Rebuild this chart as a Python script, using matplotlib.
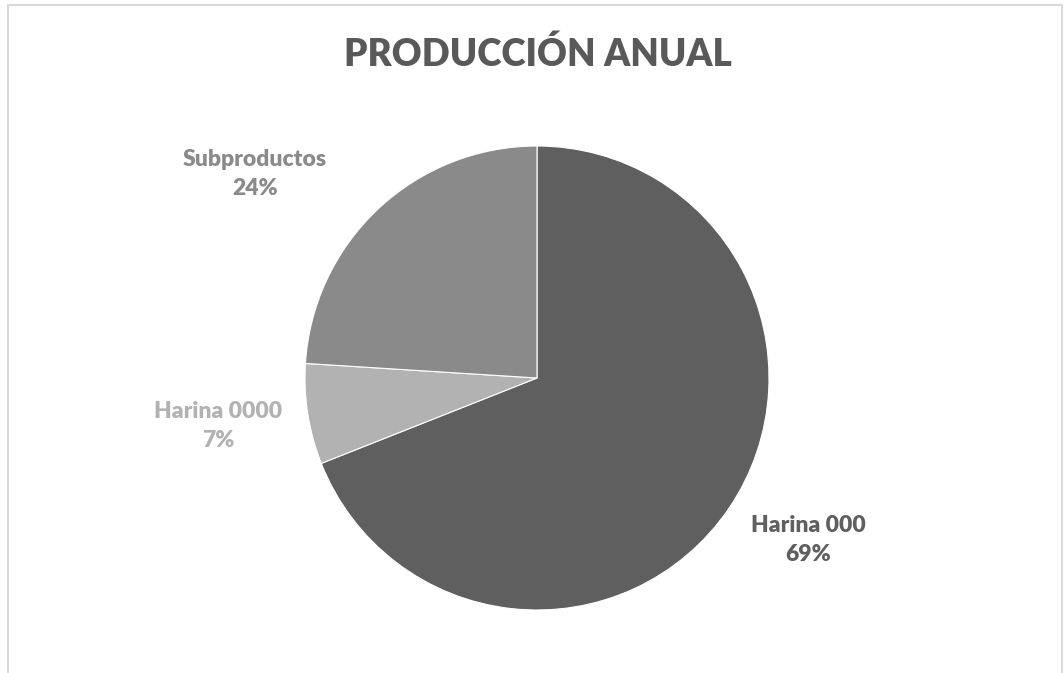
import matplotlib
matplotlib.use('Agg')
import matplotlib.pyplot as plt
from matplotlib.patches import Rectangle

plt.rcParams['font.family'] = ['Lato', 'DejaVu Sans']

labels = ['Harina 000', 'Harina 0000', 'Subproductos']
values = [69, 7, 24]
colors = ['#5f5f5f', '#b2b2b2', '#8a8a8a']
title = 'PRODUCCIÓN ANUAL'

W, H = 1064, 673
fig = plt.figure(figsize=(W / 100, H / 100), dpi=100)

# chart border
fig.patches.append(Rectangle((8 / W, -0.01), (1062 - 8) / W, 1 - 5 / H + 0.01,
                             transform=fig.transFigure, fill=False,
                             edgecolor='#d9d9d9', linewidth=1.5))

cx, cy, r = 537, 378, 232
ax = fig.add_axes([(cx - r) / W, 1 - (cy + r) / H, 2 * r / W, 2 * r / H])
ax.pie(values, colors=colors, startangle=90, counterclock=False,
       wedgeprops=dict(edgecolor='white', linewidth=0.8))
ax.set_xlim(-1, 1)
ax.set_ylim(-1, 1)

fig.text(537.5 / W, 1 - 54 / H, title, ha='center', va='center',
         fontsize=26.5, fontweight='heavy', color='#595959')

# label positions (pixels) as drawn by the original best-fit layout
label_pos = [(808, 540), (218, 426), (255, 174)]
for lab, val, col, (px, py) in zip(labels, values, colors, label_pos):
    fig.text(px / W, 1 - py / H, f'{lab}\n{val}%', ha='center', va='center',
             fontsize=16.5, fontweight='heavy', color=col, linespacing=1.42)

fig.savefig('out.png', dpi=100)
